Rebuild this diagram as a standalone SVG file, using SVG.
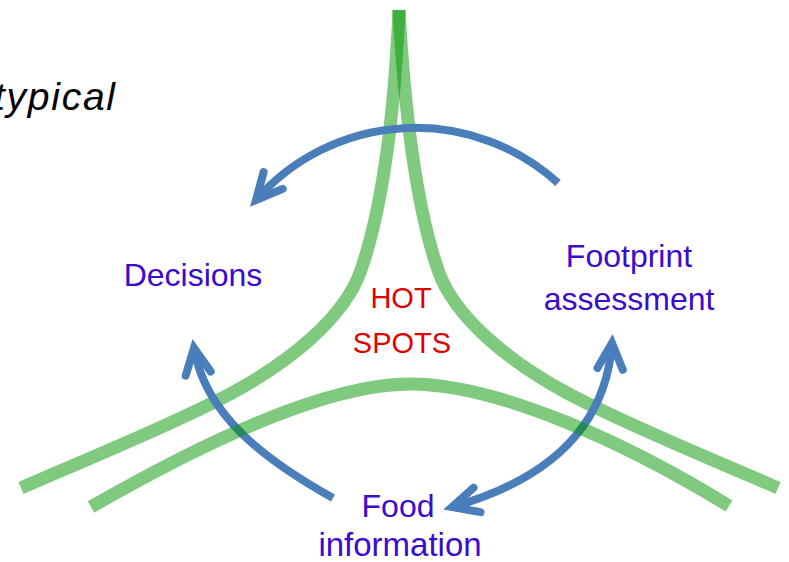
<svg xmlns="http://www.w3.org/2000/svg" width="789" height="562" viewBox="0 0 789 562">
  <style>
    .green { fill: none; stroke: rgb(0,150,0); stroke-opacity: 0.5; stroke-width: 13; stroke-linecap: butt; }
    .flow { fill: none; stroke: #4A7EBB; stroke-width: 8; stroke-linecap: butt; }
    .label { font-family: "Liberation Sans", Arial, sans-serif; font-size: 32px; fill: #3A0BD0; text-anchor: middle; }
    .hot { font-family: "Liberation Sans", Arial, sans-serif; font-size: 29px; fill: #E00000; text-anchor: middle; }
    .note { font-family: "Liberation Sans", Arial, sans-serif; font-size: 39px; font-style: italic; fill: #000; }
  </style>
  <defs>
    <marker id="head" markerUnits="userSpaceOnUse" viewBox="-40 -30 60 60" markerWidth="60" markerHeight="60" refX="0" refY="0" orient="auto-start-reverse" overflow="visible">
      <path d="M -26 -12.7 L 0 0 L -26 12.7" fill="none" stroke="#4A7EBB" stroke-width="8" stroke-linecap="round" stroke-linejoin="miter"/>
    </marker>
  </defs>

  <rect width="789" height="562" fill="#ffffff"/>

  <g id="spikes">
    <path class="green" d="M 399 10 C 395 100, 385 200, 361 270 C 345 317, 290 362, 230 394 C 170 426, 80 462, 21 488"/>
    <path class="green" d="M 399 10 C 404 100, 414 200, 438 270 C 454 317, 509 362, 569 394 C 629 426, 719 462, 778 488"/>
  </g>

  <g id="connectors">
    <path class="flow" d="M 558 183 A 212 212 0 0 0 256 200" marker-end="url(#head)"/>
    <path class="flow" d="M 333 498 C 265 460, 205 415, 194 348" marker-end="url(#head)"/>
    <path class="flow" d="M 452 507 C 530 485, 605 440, 612 343" marker-start="url(#head)" marker-end="url(#head)"/>
  </g>

  <g id="arch">
    <path class="green" d="M 91 507 C 190 450, 320 384, 410 384 C 500 384, 630 445, 729 506"/>
  </g>

  <g id="typical">
    <text class="note" x="-6" y="110" textLength="121">typical</text>
  </g>
  <g id="decisions">
    <text class="label" x="193" y="286">Decisions</text>
  </g>
  <g id="footprint">
    <text class="label" x="629" y="267">Footprint</text>
    <text class="label" x="629" y="310">assessment</text>
  </g>
  <g id="food">
    <text class="label" x="398" y="517">Food</text>
    <text class="label" x="400" y="556" style="font-size:33px">information</text>
  </g>
  <g id="hotspots">
    <text class="hot" x="401" y="308">HOT</text>
    <text class="hot" x="402" y="353">SPOTS</text>
  </g>
</svg>
